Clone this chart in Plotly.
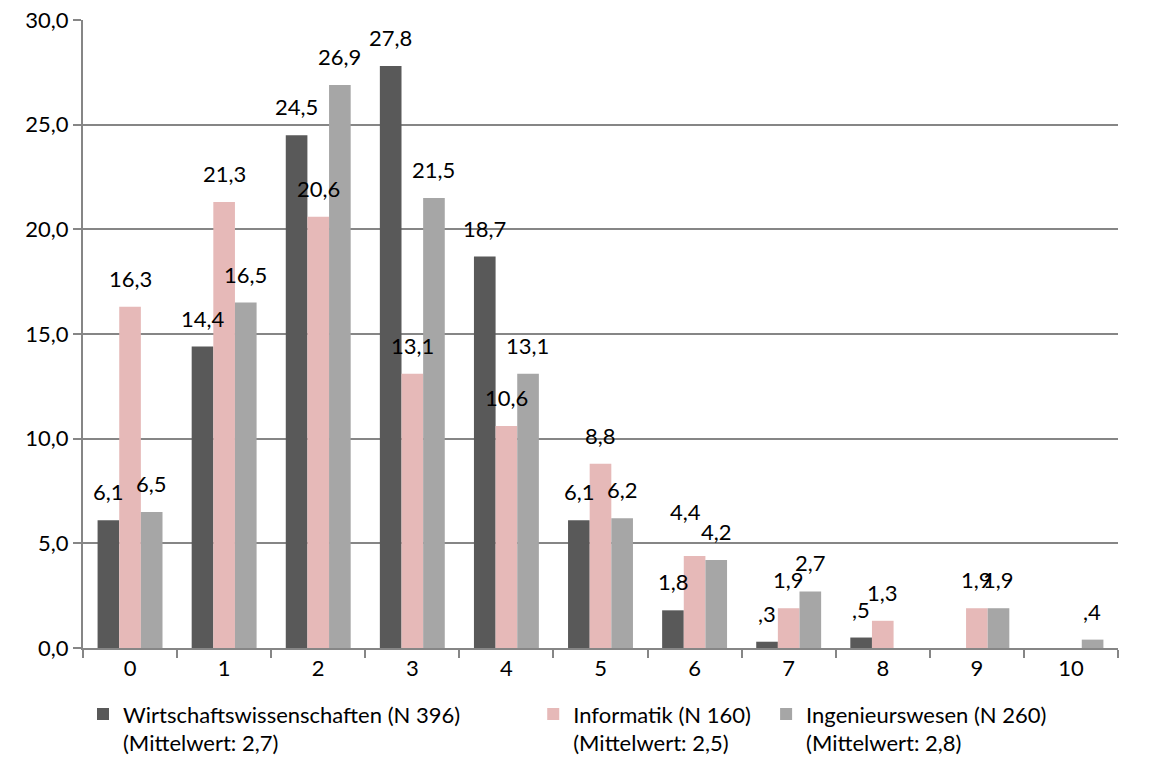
import plotly.graph_objects as go

categories = ["0", "1", "2", "3", "4", "5", "6", "7", "8", "9", "10"]
series_names = [
    "Wirtschaftswissenschaften (N 396)<br>(Mittelwert: 2,7)",
    "Informatik (N 160)<br>(Mittelwert: 2,5)",
    "Ingenieurswesen (N 260)<br>(Mittelwert: 2,8)",
]
wirtschaft = [6.1, 14.4, 24.5, 27.8, 18.7, 6.1, 1.8, 0.3, 0.5, 0, 0]
informatik = [16.3, 21.3, 20.6, 13.1, 10.6, 8.8, 4.4, 1.9, 1.3, 1.9, 0]
ingenieur = [6.5, 16.5, 26.9, 21.5, 13.1, 6.2, 4.2, 2.7, 0, 1.9, 0.4]
y_ticks = [0, 5, 10, 15, 20, 25, 30]

colors = ["#595959", "#E6B9B8", "#A6A6A6"]
FONT = "Lato"
FS = 22

# label nudges (series index, category) -> (dx px, dy px), as in the original
label_nudge = {(1, "6"): (-9, 16)}


def fmt(v):
    s = f"{v:.1f}".replace(".", ",")
    if s.startswith("0,"):
        s = s[1:]
    return s


fig = go.Figure()
all_series = [wirtschaft, informatik, ingenieur]
legend_ids = ["legend", "legend2", "legend3"]
for name, vals, col, lg in zip(series_names, all_series, colors, legend_ids):
    fig.add_trace(go.Bar(
        x=categories, y=vals, name=name, legend=lg,
        marker=dict(color=col, line=dict(width=0)),
    ))

bar_px = 21.5
shifts = [-bar_px, 0, bar_px]
for si, (vals, sh) in enumerate(zip(all_series, shifts)):
    for c, v in zip(categories, vals):
        if v == 0:
            continue
        ndx, ndy = label_nudge.get((si, c), (0, 0))
        fig.add_annotation(
            x=c, y=v, xref="x", yref="y", text=fmt(v), showarrow=False,
            xshift=sh + ndx, yshift=13 + ndy, yanchor="bottom",
            font=dict(family=FONT, size=FS, color="#000000"),
        )

leg_common = dict(
    orientation="h", xanchor="left", y=-0.072, yanchor="top",
    valign="top", font=dict(family=FONT, size=FS, color="#000000"),
    itemwidth=30, bgcolor="rgba(0,0,0,0)",
)

fig.update_layout(
    width=1162, height=783,
    margin=dict(l=75, r=52, t=12, b=143, autoexpand=False),
    paper_bgcolor="white", plot_bgcolor="white",
    barmode="group", bargap=0.31, bargroupgap=0,
    font=dict(family=FONT, size=FS, color="#000000"),
    showlegend=True,
    legend=dict(x=0.0, **leg_common),
    legend2=dict(x=0.435, **leg_common),
    legend3=dict(x=0.660, **leg_common),
)
fig.update_xaxes(
    type="category", showgrid=False, showline=True, linecolor="#868686", linewidth=2,
    ticks="outside", tickson="boundaries", ticklen=8, tickcolor="#868686", tickwidth=2,
    tickfont=dict(family=FONT, size=FS), automargin=False,
)
fig.update_yaxes(
    range=[0, 30], tickvals=y_ticks, ticktext=[fmt(t) if t else "0,0" for t in y_ticks],
    showgrid=True, gridcolor="#868686", gridwidth=2,
    showline=True, linecolor="#868686", linewidth=2,
    ticks="outside", ticklen=8, tickcolor="#868686", tickwidth=2,
    tickfont=dict(family=FONT, size=FS), zeroline=False,
    ticklabeloverflow="allow", automargin=False,
)

fig.write_html("out.html")
